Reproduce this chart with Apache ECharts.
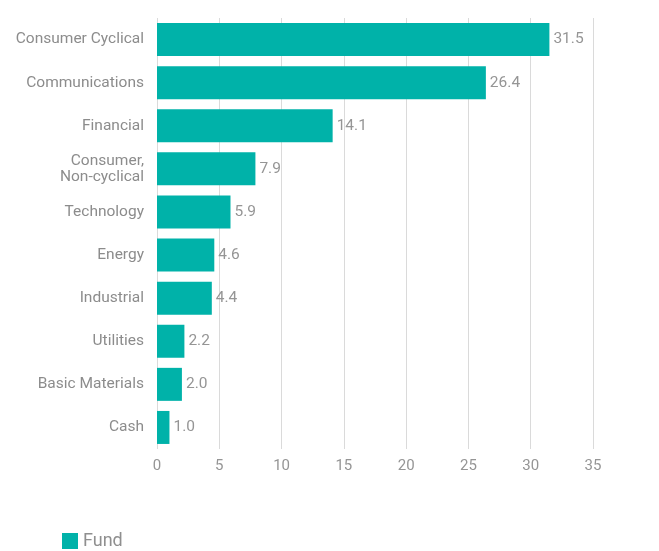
<!DOCTYPE html>
<html>
<head>
<meta charset="utf-8">
<script src="https://cdn.jsdelivr.net/npm/echarts@6/dist/echarts.min.js"></script>
<style>
html,body{margin:0;padding:0;background:#fff;}
#chart{width:659px;height:551px;}
</style>
</head>
<body>
<div id="chart"></div>
<script>
const categories = ["Consumer Cyclical","Communications","Financial","Consumer,\nNon-cyclical","Technology","Energy","Industrial","Utilities","Basic Materials","Cash"];
const fundValues = [31.5,26.4,14.1,7.9,5.9,4.6,4.4,2.2,2.0,1.0];
const xTicks = [0,5,10,15,20,25,30,35];

const chart = echarts.init(document.getElementById('chart'));
chart.setOption({
  animation:false,
  textStyle:{fontFamily:'Roboto, "Liberation Sans", sans-serif'},
  grid:{left:157,right:66,top:18,bottom:102},
  legend:{
    data:['Fund'],left:57,top:527,itemWidth:16,itemHeight:16,itemGap:6,
    icon:'rect',
    textStyle:{color:'#8f8f8f',fontSize:18}
  },
  xAxis:{
    type:'value',min:xTicks[0],max:xTicks[xTicks.length-1],interval:5,
    axisLine:{show:false},axisTick:{show:false},
    splitLine:{show:true,lineStyle:{color:'#dadada',width:1}},
    axisLabel:{color:'#959595',fontSize:15,margin:10}
  },
  yAxis:{
    type:'category',data:categories,inverse:true,
    axisLine:{show:false},axisTick:{show:false},
    axisLabel:{color:'#8c8c8c',fontSize:15.5,margin:13,lineHeight:16,align:'right'}
  },
  series:[{
    name:'Fund',type:'bar',data:fundValues,barWidth:33,
    itemStyle:{color:'#00b2a9'},
    label:{show:true,position:'right',distance:4,color:'#959595',fontSize:15.5,
      formatter:p=>p.value.toFixed(1)}
  }]
});
</script>
</body>
</html>
